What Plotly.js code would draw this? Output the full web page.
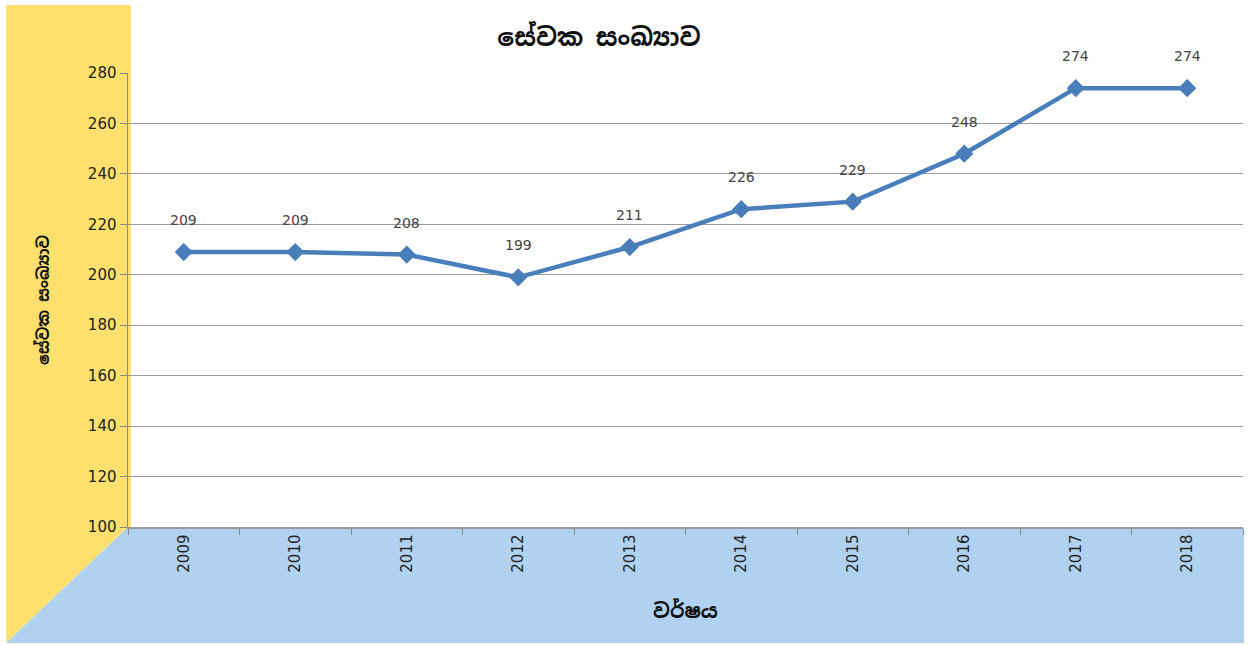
<!DOCTYPE html>
<html>
<head>
<meta charset="utf-8">
<script src="https://cdn.plot.ly/plotly-3.0.1.min.js"></script>
<style>
  html, body { margin: 0; padding: 0; background: #ffffff; }
  #chart { width: 1248px; height: 645px; }
</style>
</head>
<body>
<div id="chart"></div>
<script>
// ---- data ----
const years = ['2009', '2010', '2011', '2012', '2013', '2014', '2015', '2016', '2017', '2018'];
const employees = [209, 209, 208, 199, 211, 226, 229, 248, 274, 274];
const chartTitle = 'සේවක සංඛ්‍යාව';
const yTitle = 'සේවක සංඛ්‍යාව';
const xTitle = 'වර්ෂය';
const yTicks = [100, 120, 140, 160, 180, 200, 220, 240, 260, 280];

const W = 1248, H = 645;
const M = { l: 128, r: 5, t: 73, b: 118 };
const pw = W - M.l - M.r, ph = H - M.t - M.b;
const px = p => (p - M.l) / pw;          // pixel x -> paper x
const py = p => (H - M.b - p) / ph;      // pixel y -> paper y

const sinhalaFont = '"Noto Sans Sinhala", "Iskoola Pota", "Noto Sans", sans-serif';

const trace = {
  type: 'scatter',
  mode: 'lines+markers',
  x: years,
  y: employees,
  line: { color: '#4A7EBB', width: 4.5 },
  marker: { symbol: 'diamond', size: 14, color: '#4A7EBB' },
  cliponaxis: false,
  hoverinfo: 'x+y'
};

// labels: category index used as x position on the category axis
const annotations = years.map((yr, i) => ({
  x: i, y: employees[i], xref: 'x', yref: 'y',
  text: String(employees[i]), showarrow: false,
  yshift: 32,
  font: { family: '"DejaVu Sans", sans-serif', size: 14, color: '#444444' }
}));

const shapes = [
  // yellow side wall
  {
    type: 'path', xref: 'paper', yref: 'paper', layer: 'below',
    path: `M ${px(6)} ${py(5)} L ${px(131)} ${py(5)} L ${px(131)} ${py(527)} L ${px(128)} ${py(527)} L ${px(6)} ${py(643)} Z`,
    fillcolor: '#FFE06E', line: { width: 0 }
  },
  // blue floor
  {
    type: 'path', xref: 'paper', yref: 'paper', layer: 'below',
    path: `M ${px(127)} ${py(528)} L ${px(1244)} ${py(528)} L ${px(1244)} ${py(643)} L ${px(6)} ${py(643)} Z`,
    fillcolor: '#B0D2F0', line: { width: 0 }
  }
];

const layout = {
  width: W, height: H,
  margin: M,
  paper_bgcolor: 'rgba(0,0,0,0)',
  plot_bgcolor: '#ffffff',
  showlegend: false,
  title: {
    text: '<b>' + chartTitle + '</b>',
    xref: 'container', yref: 'container',
    x: 599 / W, y: 1 - 37 / H, xanchor: 'center', yanchor: 'middle',
    font: { family: sinhalaFont, size: 25, color: '#111111' }
  },
  xaxis: {
    type: 'category',
    range: [-0.5, years.length - 0.5],
    autorange: false,
    tickangle: -90,
    ticks: 'outside', tickson: 'boundaries', ticklen: 6, tickcolor: '#888888',
    showline: true, linecolor: '#999999', linewidth: 1.5,
    showgrid: false, zeroline: false,
    tickfont: { family: '"DejaVu Sans", sans-serif', size: 15, color: '#222222' },
    title: { text: '<b>' + xTitle + '</b>', standoff: 32,
             font: { family: sinhalaFont, size: 20, color: '#111111' } },
    automargin: false
  },
  yaxis: {
    range: [100, 280],
    autorange: false,
    tickvals: yTicks,
    ticks: 'outside', ticklen: 7, tickcolor: '#888888',
    showline: true, linecolor: '#8a8a8a', linewidth: 1.5,
    showgrid: true, gridcolor: '#9a9a9a', gridwidth: 1.2,
    zeroline: false,
    tickfont: { family: '"DejaVu Sans", sans-serif', size: 15, color: '#222222' },
    title: { text: '<b>' + yTitle + '</b>', standoff: 34,
             font: { family: sinhalaFont, size: 16, color: '#111111' } },
    automargin: false
  },
  annotations: annotations,
  shapes: shapes
};

Plotly.newPlot('chart', [trace], layout, { displayModeBar: false, staticPlot: true });
</script>
</body>
</html>
